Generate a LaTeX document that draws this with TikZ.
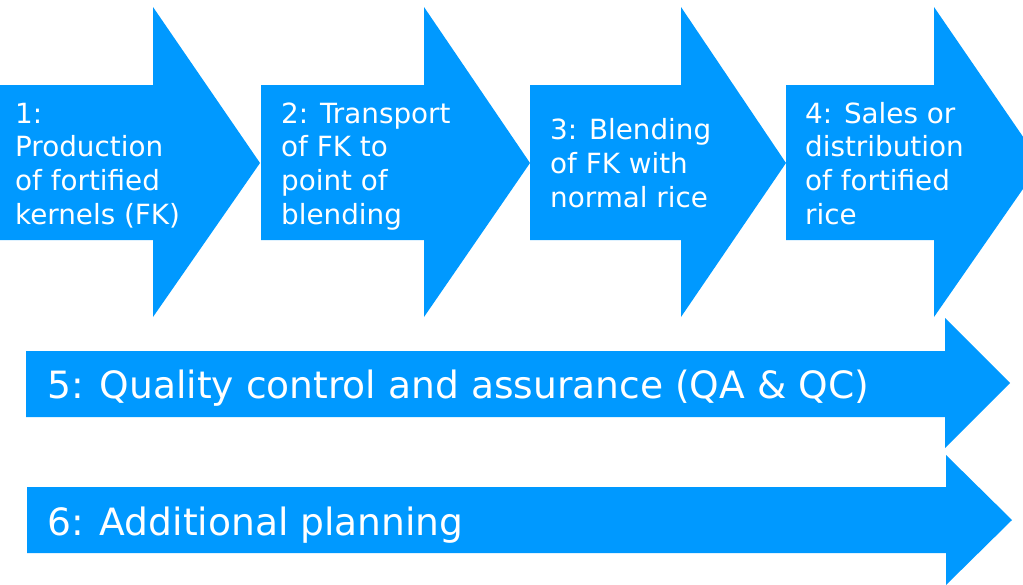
\documentclass[tikz,border=0pt]{standalone}
\usepackage{fontspec}
\setmainfont{DejaVu Sans}
\definecolor{arrowblue}{RGB}{0,153,255}
\begin{document}
\begin{tikzpicture}[x=1pt,y=-1pt,
  arrowfill/.style={fill=arrowblue},
  steptext/.style={text=white,anchor=base west,inner sep=0pt,align=left,
    font=\fontsize{27.8}{33.6}\selectfont},
  bigtext/.style={text=white,anchor=base west,inner sep=0pt,
    font=\fontsize{37.6}{46}\selectfont}]
\useasboundingbox (0,0) rectangle (1023,584);
\clip (0,0) rectangle (1023,584);
% top arrows
\fill[arrowfill] (-2,85) -- (153,85) -- (153,7) -- (260,163) -- (153,317) -- (153,240) -- (-2,240) -- cycle;
\fill[arrowfill] (261,85) -- (424,85) -- (424,7) -- (530,163) -- (424,317) -- (424,240) -- (261,240) -- cycle;
\fill[arrowfill] (530,85) -- (681,85) -- (681,7) -- (786,163) -- (681,317) -- (681,240) -- (530,240) -- cycle;
\fill[arrowfill] (786,85) -- (934,85) -- (934,7) -- (1041,163) -- (934,317) -- (934,240) -- (786,240) -- cycle;
% bottom arrows
\fill[arrowfill] (26,351) -- (945,351) -- (945,318) -- (1010,383) -- (945,448) -- (945,417) -- (26,417) -- cycle;
\fill[arrowfill] (27,487) -- (946,487) -- (946,455) -- (1012,520) -- (946,585) -- (946,553) -- (27,553) -- cycle;
% texts (base anchor = baseline of the last line)
\node[steptext] (t1) at (15,224) {1:\\Production\\of fortified\\kernels (FK)};
\node[steptext] (t2) at (281,224) {2: Transport\\of FK to\\point of\\blending};
\node[steptext] (t3) at (550,207) {3: Blending\\of FK with\\normal rice};
\node[steptext] (t4) at (805,224) {4: Sales or\\distribution\\of fortified\\rice};
\node[bigtext] (t5) at (47,398) {5: Quality control and assurance (QA \& QC)};
\node[bigtext] (t6) at (47,535) {6: Additional planning};
\end{tikzpicture}
\end{document}
